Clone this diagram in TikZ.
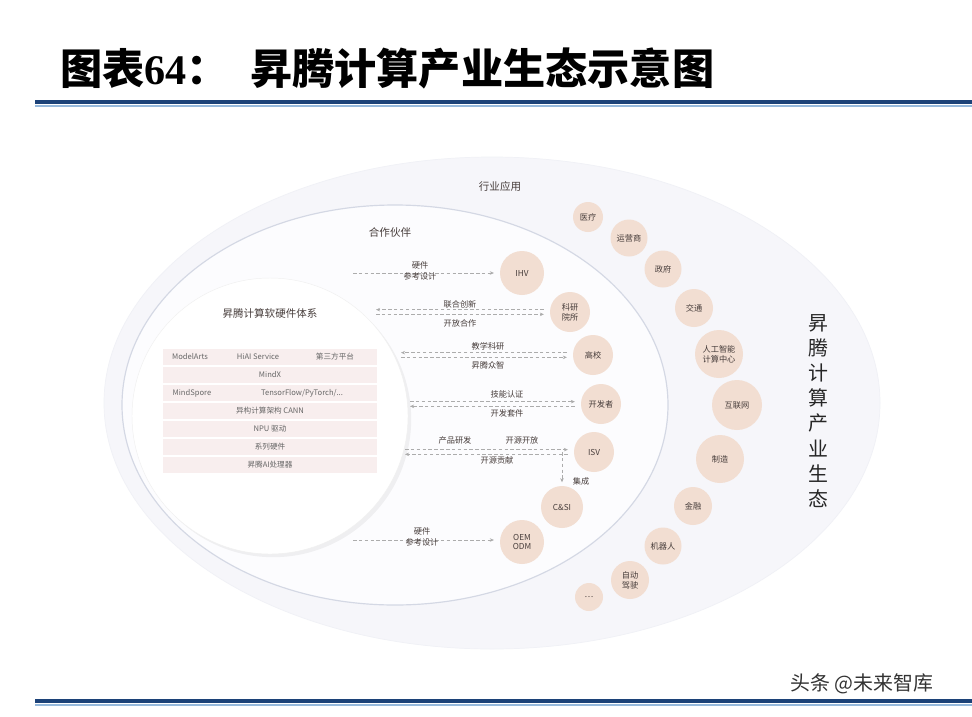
\documentclass[tikz,border=0pt]{standalone}
\usepackage{fontspec}
\setmainfont{Noto Sans CJK SC}
\newfontfamily\numfont{Liberation Serif}
\usetikzlibrary{arrows.meta,shadows}
\definecolor{ribbonblue}{RGB}{28,66,120}
\definecolor{ribbonlight}{RGB}{150,185,220}
\definecolor{peach}{RGB}{242,222,210}
\definecolor{rowpink}{RGB}{248,238,238}
\definecolor{outerfill}{RGB}{246,246,250}
\definecolor{midfill}{RGB}{252,252,254}
\definecolor{ringgray}{RGB}{212,216,228}
\definecolor{labelgray}{RGB}{70,60,58}

\tikzset{
  partner/.style={circle,fill=peach,minimum size=#1*0.03cm,inner sep=0pt,align=center,
    font=\fontsize{7}{8.5}\selectfont,text=labelgray},
  flow/.style={densely dashed,gray!65,line width=0.5pt,-{Stealth[length=3.5pt,width=3pt]}},
  tag/.style={font=\fontsize{7}{9}\selectfont,text=labelgray,align=center,inner sep=1pt},
  stacktext/.style={font=\fontsize{6.5}{8}\selectfont,text=gray!80!black,inner sep=0pt},
}

\begin{document}
\begin{tikzpicture}[x=0.03cm,y=-0.03cm]
\useasboundingbox (0,0) rectangle (972,716);
\fill[white] (0,0) rectangle (972,716);

% title and rules
\node[anchor=west,inner sep=0pt,font=\fontsize{36}{40}\selectfont\bfseries] (ttl) at (60,68)
  {图表{\numfont\bfseries 64}：};
\node[anchor=west,inner sep=0pt,font=\fontsize{36}{40}\selectfont\bfseries] (ttlb) at (250,68)
  {昇腾计算产业生态示意图};
\draw[ribbonlight,line width=1pt] (35,106) -- (972,106);
\draw[ribbonblue,line width=3.5pt] (35,102) -- (972,102);
\draw[ribbonlight,line width=1pt] (35,705) -- (972,705);
\draw[ribbonblue,line width=3.5pt] (35,701) -- (972,701);
\node[font=\fontsize{17}{20}\selectfont,text=black!80] (wm) at (862,684) {头条 @未来智库};

% rings
\fill[outerfill] (492,403) ellipse (388 and 246);
\draw[ringgray!35,line width=0.6pt] (492,403) ellipse (388 and 246);
\fill[midfill] (395,405) ellipse (273 and 200);
\draw[ringgray,line width=1pt] (395,405) ellipse (273 and 200);
\fill[white,drop shadow={opacity=0.1}] (270,416) circle (138);
\draw[gray!12] (270,416) circle (138);

\node[tag,font=\fontsize{9}{10}\selectfont] (hyyy) at (500,186) {行业应用};
\node[tag,font=\fontsize{9}{10}\selectfont] (hzhb) at (390,232) {合作伙伴};
\node[tag,font=\fontsize{9}{10}\selectfont] (core) at (270,313) {昇腾计算软硬件体系};

% stack
\foreach \y in {357,375,...,465}
  \fill[rowpink] (163,\y-8) rectangle (377,\y+8);
\node[stacktext] (ma) at (190,357) {ModelArts};
\node[stacktext] (hiai) at (258,357) {HiAI Service};
\node[stacktext] (dsf) at (335,357) {第三方平台};
\node[stacktext] (mx) at (270,375) {MindX};
\node[stacktext] (ms) at (192,393) {MindSpore};
\node[stacktext] (tf) at (302,393) {TensorFlow/PyTorch/...};
\node[stacktext] (cann) at (270,411) {异构计算架构 CANN};
\node[stacktext] (npu) at (270,429) {NPU 驱动};
\node[stacktext] (hw) at (270,447) {系列硬件};
\node[stacktext] (chip) at (270,465) {昇腾AI处理器};

% partners
\node[partner=44] (ihv) at (522,273) {IHV};
\node[partner=40] (kyys) at (570,312) {科研\\院所};
\node[partner=40] (gx) at (593,355) {高校};
\node[partner=40] (kfz) at (601,404) {开发者};
\node[partner=40] (isv) at (594,452) {ISV};
\node[partner=42] (csi) at (562,507) {C\&SI};
\node[partner=44] (oem) at (522,542) {OEM\\ODM};

\coordinate (ihvL) at (353,273);
\coordinate (kyysL) at (376,314);
\coordinate (gxL) at (401,355);
\coordinate (kfzL) at (410,405);
\coordinate (isvL) at (405,450);
\coordinate (oemL) at (353,540);

\draw[flow] (ihvL) -- ([xshift=-5pt]ihv.west);
\node[tag] (ihvt) at (420,271) {硬件\\参考设计};

\draw[flow] ([yshift=2pt,xshift=-5pt]kyys.west) -- ([yshift=2pt]kyys.west -| kyysL);
\draw[flow] ([yshift=-2pt]kyys.west -| kyysL) -- ([yshift=-2pt,xshift=-5pt]kyys.west);
\node[tag] (kyyst) at (460,304) {联合创新};
\node[tag] (kyysb) at (460,323) {开放合作};

\draw[flow] ([yshift=2pt,xshift=-5pt]gx.west) -- ([yshift=2pt]gx.west -| gxL);
\draw[flow] ([yshift=-2pt]gx.west -| gxL) -- ([yshift=-2pt,xshift=-5pt]gx.west);
\node[tag] (gxt) at (488,346) {教学科研};
\node[tag] (gxb) at (488,365) {昇腾众智};

\draw[flow] ([yshift=2pt]kfz.west -| kfzL) -- ([yshift=2pt,xshift=-5pt]kfz.west);
\draw[flow] ([yshift=-2pt,xshift=-5pt]kfz.west) -- ([yshift=-2pt]kfz.west -| kfzL);
\node[tag] (kfzt) at (507,394) {技能认证};
\node[tag] (kfzb) at (507,413) {开发套件};

\draw[flow] ([yshift=2pt]isv.west -| isvL) -- ([yshift=2pt,xshift=-5pt]isv.west);
\draw[flow] ([yshift=-2pt,xshift=-5pt]isv.west) -- ([yshift=-2pt]isv.west -| isvL);
\node[tag] (isvt) at (455,440) {产品研发};
\node[tag] (isvr) at (522,440) {开源开放};
\node[tag] (isvb) at (497,460) {开源贡献};
\coordinate (isvJ) at (562,452);
\draw[flow] (isvJ) -- ([yshift=3pt]csi.north);
\node[tag] (jc) at (581,481) {集成};

\draw[flow] (oemL) -- ([xshift=-5pt]oem.west |- oemL);
\node[tag] (oemt) at (422,537) {硬件\\参考设计};

% industries
\node[partner=30] (yl) at (588,217) {医疗};
\node[partner=37] (yys) at (629,238) {运营商};
\node[partner=37] (zf) at (663,269) {政府};
\node[partner=38] (jt) at (694,308) {交通};
\node[partner=48] (aicc) at (719,354) {人工智能\\计算中心};
\node[partner=50] (hlw) at (737,405) {互联网};
\node[partner=48] (zz) at (720,459) {制造};
\node[partner=38] (jr) at (693,506) {金融};
\node[partner=37] (jqr) at (663,546) {机器人};
\node[partner=38] (zdjs) at (630,580) {自动\\驾驶};
\node[partner=28] (more) at (589,597) {…};

\node[align=center,font=\fontsize{17}{21.5}\selectfont,text=black!85] (stt) at (818,411)
  {昇\\腾\\计\\算\\产\\业\\生\\态};
\end{tikzpicture}
\end{document}
